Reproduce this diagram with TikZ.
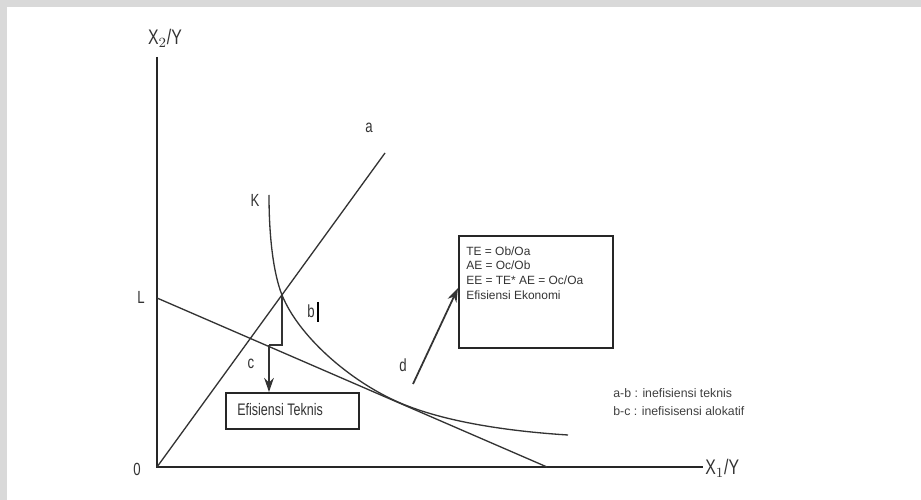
\documentclass[tikz,border=0pt]{standalone}
\usepackage{fontspec}
\setmainfont{Liberation Sans}
\newfontfamily\nf[FakeStretch=0.75]{Liberation Sans}
\usetikzlibrary{arrows.meta}
\tikzset{
  axisline/.style={line width=1.3pt, draw=black!85},
  thinline/.style={line width=0.75pt, draw=black!80},
  lbl/.style={font=\nf\fontsize{10}{12}\selectfont, inner sep=0pt, text=black!80},
  axlbl/.style={font=\nf\fontsize{12}{14}\selectfont, inner sep=0pt, text=black!80},
  boxed/.style={draw=black!85, line width=1pt, inner sep=0pt},
  arr/.style={thinline, line width=1pt, -{Stealth[length=8pt,width=5.5pt]}},
  note/.style={font=\fontsize{7}{9}\selectfont, inner sep=0pt, anchor=west, text=black!75}
}
\begin{document}
\begin{tikzpicture}[x=0.02cm, y=-0.02cm]
\useasboundingbox (0,0) rectangle (921,500);
\fill[white] (0,0) rectangle (921,500);
\fill[black!15] (0,0) rectangle (921,7);
\fill[black!15] (0,0) rectangle (7,500);
% axes
\coordinate (O) at (157,467);
\coordinate (ytop) at (157,57);
\coordinate (xend) at (703,467);
\draw[axisline] (ytop) -- (O) -- (xend);
\node[axlbl] (ylab) at (165,38) {X$_{2}$/Y};
\node[axlbl, anchor=west] (xlab) at (705,468) {X$_{1}$/Y};
\node[lbl] (zero) at (137,469) {0};
% budget line L
\coordinate (Lp) at (157,298);
\coordinate (Lq) at (547,467);
\draw[thinline] (Lp) -- (Lq);
\node[lbl] (Llab) at (141,297) {L};
% ray 0a
\coordinate (A) at (385,153);
\draw[thinline] (O) -- (A);
\node[lbl] (alab) at (369,128) {a};
% isoquant K
\coordinate (Ktop) at (269,195);
\coordinate (B) at (282,295);
\coordinate (D) at (398,402);
\coordinate (Kend) at (568,435);
\draw[thinline] (Ktop) .. controls (269,240) and (274,275) .. (B)
  .. controls (298,335) and (348,380) .. (D)
  .. controls (448,424) and (520,432) .. (Kend);
\node[lbl] (Klab) at (255,200) {K};
\node[lbl] (blab) at (311,311) {b};
\coordinate (bar1) at (318,302);
\coordinate (bar2) at (318,322);
\draw[line width=1.6pt] (bar1) -- (bar2);
\node[lbl] (clab) at (251,364) {c};
\node[lbl] (dlab) at (403,365) {d};
% bracket b-c and arrow
\coordinate (br1) at (282,345);
\coordinate (br2) at (269,345);
\draw[thinline, line width=1pt] (B) -- (br1) -- (br2);
\node[boxed, anchor=north west, minimum width=2.66cm, minimum height=0.72cm] (tk) at (225,392) {};
\node[font=\nf\fontsize{9.5}{11}\selectfont, anchor=west, inner sep=0pt, text=black!80] (tktext) at (237,410) {Efisiensi Teknis};
\draw[arr] (br2) -- (br2 |- tk.north);
% economic box
\node[boxed, anchor=north west, minimum width=3.08cm, minimum height=2.24cm] (ee) at (458,235) {};
\node[anchor=north west, align=left, inner sep=0pt, font=\fontsize{6.8}{8.5}\selectfont, text=black!80] (eetext) at (466,246)
  {TE = Ob/Oa\\AE = Oc/Ob\\EE = TE* AE = Oc/Oa\\Efisiensi Ekonomi};
\coordinate (dstart) at (413,384);
\draw[arr] (dstart) -- (ee.west |- 0,288);
% notes
\node[note] (n1) at (613,393) {a-b : inefisiensi teknis};
\node[note] (n2) at (613,411) {b-c : inefisisensi alokatif};
\end{tikzpicture}
\end{document}
